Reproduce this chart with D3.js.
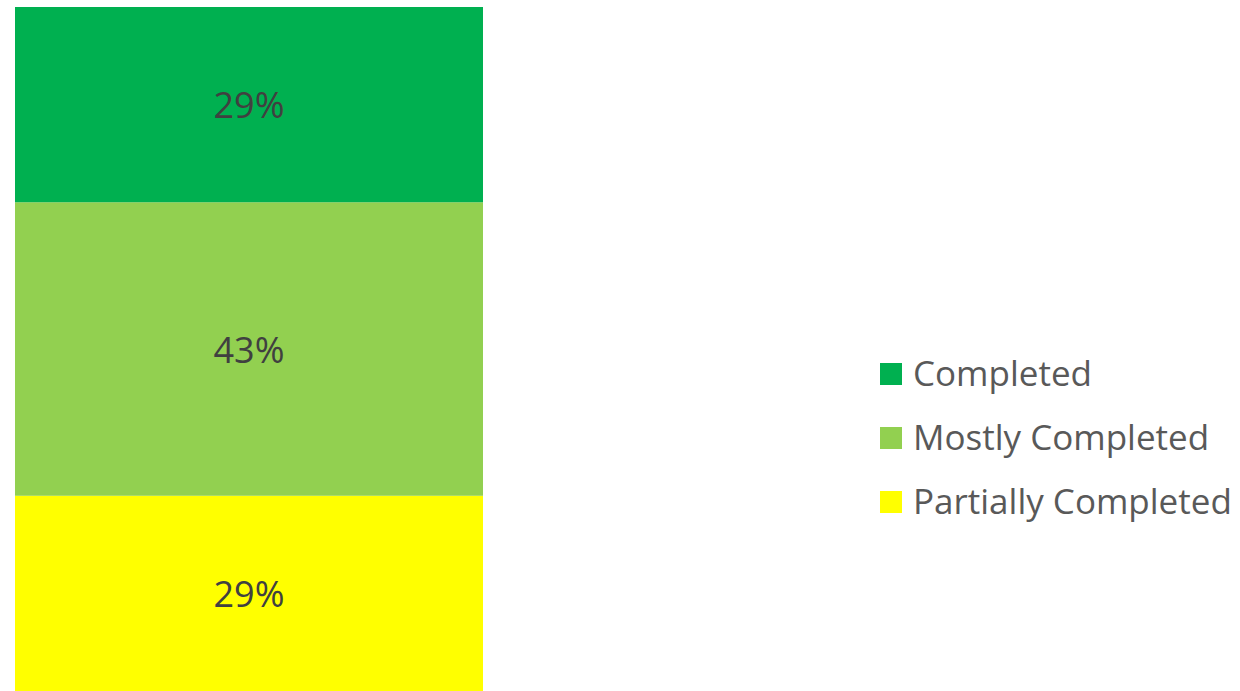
<!DOCTYPE html>
<html>
<head>
<meta charset="utf-8">
<script src="https://cdn.jsdelivr.net/npm/d3@7"></script>
<style>
  body { margin: 0; background: #fff; }
  svg { display: block; font-family: "Open Sans", "Noto Sans", sans-serif; }
</style>
</head>
<body>
<div id="chart"></div>
<script>
// data
const categories = ["Completed", "Mostly Completed", "Partially Completed"];
const values = [28.6, 43.0, 28.6];
const colors = ["#00B050", "#92D050", "#FFFF00"];

const width = 1240;
const height = 691;

const svg = d3.select("#chart")
    .append("svg")
    .attr("width", width)
    .attr("height", height);

// one stacked column, first category on top
const row = {};
categories.forEach((c, i) => { row[c] = values[i]; });
const stack = d3.stack().keys(categories.slice().reverse());
const series = stack([row]);
const total = d3.sum(values);

const x = d3.scaleBand().domain(["all"]).range([15, 483]).padding(0);
const y = d3.scaleLinear().domain([0, total]).range([691, 7]);
const color = d3.scaleOrdinal().domain(categories).range(colors);

const seg = svg.append("g")
    .selectAll("g")
    .data(series)
    .join("g");

seg.append("rect")
    .attr("x", x("all"))
    .attr("width", x.bandwidth())
    .attr("y", d => y(d[0][1]))
    .attr("height", d => y(d[0][0]) - y(d[0][1]))
    .attr("fill", d => color(d.key));

seg.append("text")
    .attr("x", x("all") + x.bandwidth() / 2)
    .attr("y", d => (y(d[0][0]) + y(d[0][1])) / 2)
    .attr("text-anchor", "middle")
    .attr("dominant-baseline", "central")
    .attr("font-size", 36)
    .attr("fill", "#404040")
    .text(d => Math.round(d[0][1] - d[0][0]) + "%");

// legend
const legend = svg.append("g")
    .selectAll("g")
    .data(categories)
    .join("g")
    .attr("transform", (d, i) => `translate(880, ${363 + i * 64})`);

legend.append("rect")
    .attr("width", 22)
    .attr("height", 22)
    .attr("fill", d => color(d));

legend.append("text")
    .attr("x", 33)
    .attr("y", 9)
    .attr("dominant-baseline", "central")
    .attr("font-size", 35)
    .attr("fill", "#595959")
    .text(d => d);
</script>
</body>
</html>
